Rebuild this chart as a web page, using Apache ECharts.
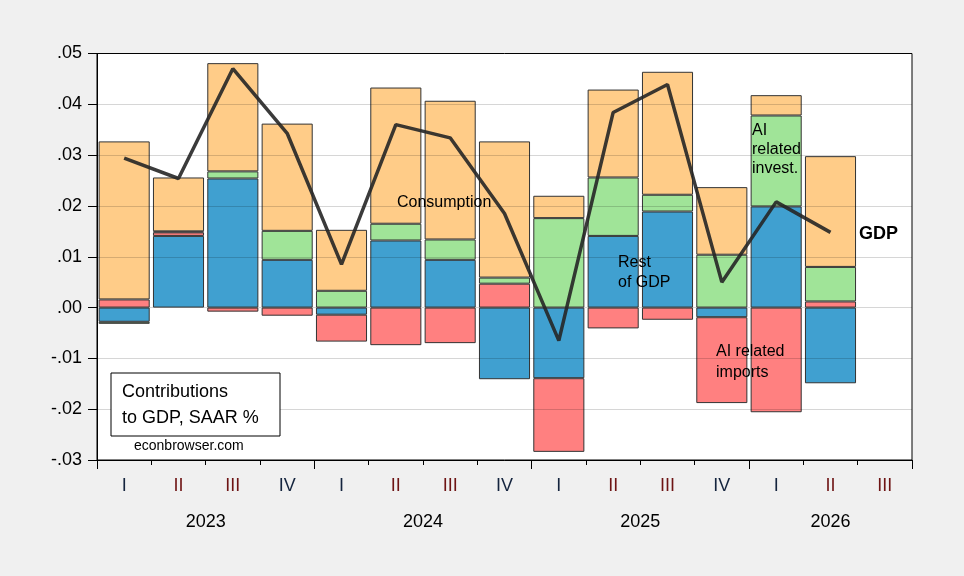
<!DOCTYPE html>
<html>
<head>
<meta charset="utf-8">
<title>Contributions to GDP</title>
<script src="https://cdn.jsdelivr.net/npm/echarts@6/dist/echarts.min.js"></script>
<style>
  html, body { margin: 0; padding: 0; background: #f0f0f0; }
  #chart { width: 964px; height: 576px; }
</style>
</head>
<body>
<div id="chart"></div>
<script>
// quarters 2023Q1 .. 2026Q3
const quarters = ['I', 'II', 'III', 'IV', 'I', 'II', 'III', 'IV', 'I', 'II', 'III', 'IV', 'I', 'II', 'III'];
const years = ['2023', '2024', '2025', '2026'];

// contributions, fraction SAAR
const restOfGdp = [-0.0028, 0.0141, 0.0254, 0.0094, -0.0014, 0.0132, 0.0094, -0.0141, -0.0139, 0.0141, 0.0189, -0.0019, 0.0199, -0.0149, null];
const aiImports = [0.0016, 0.0007, -0.0008, -0.0016, -0.0053, -0.0074, -0.0070, 0.0047, -0.0145, -0.0041, -0.0024, -0.0169, -0.0206, 0.0012, null];
const aiInvest = [-0.0004, 0.0002, 0.0014, 0.0057, 0.0033, 0.0033, 0.0040, 0.0012, 0.0176, 0.0115, 0.0033, 0.0104, 0.0179, 0.0068, null];
const consumption = [0.0311, 0.0106, 0.0213, 0.0211, 0.0120, 0.0268, 0.0273, 0.0268, 0.0044, 0.0173, 0.0242, 0.0133, 0.0040, 0.0218, null];
const gdp = [0.0294, 0.0254, 0.0470, 0.0343, 0.0085, 0.0360, 0.0334, 0.0185, -0.0065, 0.0384, 0.0439, 0.0050, 0.0208, 0.0148, null];

const FONT = '"Liberation Sans", Arial, sans-serif';

// year label sits in the middle of its quarters
const yearPos = {};
let start = 0;
years.forEach((y, k) => {
  let end = start + 1;
  while (end < quarters.length && quarters[end] !== 'I') end++;
  yearPos[((start + end) / 2).toFixed(1)] = y;
  start = end;
});

const chart = echarts.init(document.getElementById('chart'));

const barStyle = (c) => ({ color: c, borderColor: '#333', borderWidth: 1 });

chart.setOption({
  animation: false,
  backgroundColor: '#f0f0f0',
  textStyle: { fontFamily: FONT },
  grid: {
    left: 97, right: 52, top: 53.5, bottom: 116,
    show: true, backgroundColor: '#fff', borderColor: '#000', borderWidth: 1
  },
  xAxis: [
    {
      type: 'category',
      data: quarters,
      position: 'bottom',
      axisLine: { onZero: false, lineStyle: { color: '#000', width: 1 } },
      axisTick: { show: true, interval: 0, length: 5, lineStyle: { color: '#000' } },
      axisLabel: {
        interval: 0, margin: 17, fontSize: 18, fontFamily: FONT,
        color: (v) => (v === 'II' || v === 'III') ? '#6e1414' : '#14243e'
      },
      splitLine: { show: false }
    },
    {
      type: 'category',
      data: quarters,
      position: 'bottom',
      axisLine: { show: false, onZero: false },
      axisTick: { show: true, interval: (i) => quarters[i] === 'I', length: 9, lineStyle: { color: '#000' } },
      axisLabel: { show: false },
      splitLine: { show: false }
    },
    {
      type: 'value',
      min: 0, max: quarters.length, interval: 0.5,
      position: 'bottom',
      axisLine: { show: false, onZero: false },
      axisTick: { show: false },
      splitLine: { show: false },
      axisLabel: {
        margin: 53, fontSize: 18, fontFamily: FONT, color: '#000',
        formatter: (v) => yearPos[v.toFixed(1)] || ''
      }
    }
  ],
  yAxis: {
    type: 'value',
    min: -0.03, max: 0.05, interval: 0.01,
    z: 3,
    axisLine: { show: true, onZero: false, lineStyle: { color: '#000' } },
    axisTick: { show: true, length: 9, lineStyle: { color: '#000' } },
    axisLabel: {
      margin: 15, fontSize: 18, fontFamily: FONT, color: '#000',
      formatter: (v) => v.toFixed(2).replace('0.', '.')
    },
    splitLine: { show: true, lineStyle: { color: 'rgba(0,0,0,0.16)', width: 1 } }
  },
  series: [
    { name: 'Rest of GDP', type: 'bar', stack: 'c', data: restOfGdp, barWidth: '94%', itemStyle: barStyle('#40a0d0') },
    { name: 'AI related imports', type: 'bar', stack: 'c', data: aiImports, itemStyle: barStyle('#ff8080') },
    { name: 'AI related invest.', type: 'bar', stack: 'c', data: aiInvest, itemStyle: barStyle('#a0e498') },
    { name: 'Consumption', type: 'bar', stack: 'c', data: consumption, itemStyle: barStyle('#ffcc88') },
    {
      name: 'GDP', type: 'line', data: gdp, z: 4,
      showSymbol: false, symbol: 'none',
      lineStyle: { color: '#262626', width: 3.5, opacity: 0.9 }
    }
  ],
  graphic: [
    { type: 'text', left: 397, top: 193, z: 100, style: { text: 'Consumption', font: '16px ' + FONT, fill: '#000', lineHeight: 20 } },
    { type: 'text', left: 618, top: 253, z: 100, style: { text: 'Rest\nof GDP', font: '16px ' + FONT, fill: '#000', lineHeight: 20 } },
    { type: 'text', left: 752, top: 121, z: 100, style: { text: 'AI\nrelated\ninvest.', font: '16px ' + FONT, fill: '#000', lineHeight: 19 } },
    { type: 'text', left: 716, top: 341, z: 100, style: { text: 'AI related\nimports', font: '16px ' + FONT, fill: '#000', lineHeight: 21 } },
    { type: 'text', left: 859, top: 223, z: 100, style: { text: 'GDP', font: 'bold 18px ' + FONT, fill: '#000', lineHeight: 22 } },
    {
      type: 'rect', z: 100,
      shape: { x: 111, y: 373, width: 169, height: 63 },
      style: { fill: '#fff', stroke: '#000', lineWidth: 1 }
    },
    { type: 'text', left: 122, top: 379, z: 101, style: { text: 'Contributions\nto GDP, SAAR %', font: '18px ' + FONT, fill: '#000', lineHeight: 26 } },
    { type: 'text', left: 134, top: 437, z: 101, style: { text: 'econbrowser.com', font: '14px ' + FONT, fill: '#000', lineHeight: 18 } }
  ]
});
</script>
</body>
</html>
